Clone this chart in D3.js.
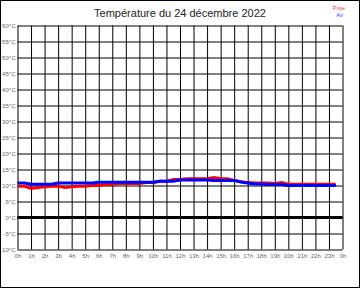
<!DOCTYPE html>
<html>
<head>
    <meta charset='utf-8' />
    <title>Température</title>
    <script src="https://d3js.org/d3.v7.min.js"></script>
    <style>
        body { margin: 0; background: #fff; }
        svg { display: block; font-family: "Liberation Sans", Arial, sans-serif; }
        .tick text { fill: #666; font-size: 6px; }
    </style>
</head>
<body>
    <div id="chart"></div>
    <script>
        // data
        var hours = [0, 0.5, 1, 1.5, 2, 2.5, 3, 3.5, 4, 4.5, 5, 5.5, 6, 6.5, 7, 7.5, 8, 8.5, 9, 9.5,
            10, 10.5, 11, 11.5, 12, 12.5, 13, 13.5, 14, 14.5, 15, 15.5, 16, 16.5, 17, 17.5, 18, 18.5, 19, 19.5,
            20, 20.5, 21, 21.5, 22, 22.5, 23, 23.5];
        var piste = [9.8, 9.8, 9.1, 9.4, 9.6, 9.8, 9.8, 9.4, 9.6, 9.8, 9.8, 10.0, 10.0, 10.3, 10.3, 10.6, 10.6, 10.6, 10.6, 10.9,
            10.9, 11.3, 11.3, 11.9, 11.9, 12.1, 12.1, 12.1, 12.1, 12.5, 12.1, 12.1, 11.6, 11.2, 10.9, 10.8, 10.8, 10.8, 10.6, 10.9,
            10.4, 10.4, 10.4, 10.4, 10.4, 10.4, 10.4, 10.4];
        var air = [10.8, 10.8, 10.4, 10.4, 10.4, 10.4, 10.8, 10.8, 10.8, 10.8, 10.8, 10.8, 11.0, 11.0, 11.0, 11.0, 11.0, 11.0, 11.0, 11.0,
            11.0, 11.3, 11.3, 11.3, 11.7, 11.7, 11.7, 11.7, 11.7, 11.6, 11.6, 11.6, 11.6, 11.1, 10.8, 10.5, 10.5, 10.3, 10.3, 10.3,
            10.0, 10.0, 10.0, 10.0, 10.0, 10.0, 10.0, 10.0];
        var yTicks = [-10, -5, 0, 5, 10, 15, 20, 25, 30, 35, 40, 45, 50, 55, 60];
        var hourTicks = d3.range(0, 25);
        var hourLabels = ["0h", "1h", "2h", "3h", "4h", "5h", "6h", "7h", "8h", "9h", "10h", "11h", "12h",
            "13h", "14h", "15h", "16h", "17h", "18h", "19h", "20h", "21h", "22h", "23h", "0h"];

        var width = 360, height = 288;
        var margin = { top: 25.5, right: 17.5, bottom: 38.5, left: 17.5 };

        var x = d3.scaleLinear().domain([0, 24]).range([margin.left, width - margin.right]);
        var y = d3.scaleLinear().domain([-10, 60]).range([height - margin.bottom, margin.top]);

        var svg = d3.select("#chart").append("svg")
            .attr("width", width)
            .attr("height", height);

        // frame
        svg.append("rect")
            .attr("x", 0.5).attr("y", 0.5)
            .attr("width", width - 1).attr("height", height - 1)
            .attr("fill", "#fff").attr("stroke", "#000");

        // y grid + labels
        svg.append("g")
            .attr("transform", "translate(" + margin.left + ",0)")
            .call(d3.axisLeft(y).tickValues(yTicks)
                .tickSize(-(x(24) - x(0)))
                .tickPadding(2)
                .tickFormat(function (d) { return d + "°C"; }))
            .call(function (g) { g.select(".domain").remove(); })
            .call(function (g) { g.selectAll(".tick line").attr("stroke", "#000"); });

        // x grid + labels
        svg.append("g")
            .attr("transform", "translate(0," + y(-10) + ")")
            .call(d3.axisBottom(x).tickValues(hourTicks)
                .tickSize(-(y(-10) - y(60)))
                .tickPadding(4)
                .tickFormat(function (d, i) { return hourLabels[i]; }))
            .call(function (g) { g.select(".domain").remove(); })
            .call(function (g) { g.selectAll(".tick line").attr("stroke", "#000"); });

        // zero line
        svg.append("line")
            .attr("x1", x(0)).attr("x2", x(24))
            .attr("y1", y(0)).attr("y2", y(0))
            .attr("stroke", "#000").attr("stroke-width", 3);

        var line = d3.line()
            .x(function (d, i) { return x(hours[i]); })
            .y(function (d) { return y(d); });

        svg.append("path")
            .attr("d", line(piste))
            .attr("fill", "none").attr("stroke", "#ff0000").attr("stroke-width", 3);

        svg.append("path")
            .attr("d", line(air))
            .attr("fill", "none").attr("stroke", "#0000ff").attr("stroke-width", 3);

        // title
        svg.append("text")
            .attr("x", 180).attr("y", 17)
            .attr("text-anchor", "middle")
            .attr("font-size", 11)
            .attr("fill", "#222")
            .text("Température du 24 décembre 2022");

        // legend
        svg.append("text")
            .attr("x", 345).attr("y", 10)
            .attr("text-anchor", "end").attr("font-size", 5.5)
            .attr("fill", "#ff3333").text("Piste");
        svg.append("text")
            .attr("x", 343).attr("y", 17)
            .attr("text-anchor", "end").attr("font-size", 5.5)
            .attr("fill", "#3333ff").text("Air");
    </script>
</body>
</html>
